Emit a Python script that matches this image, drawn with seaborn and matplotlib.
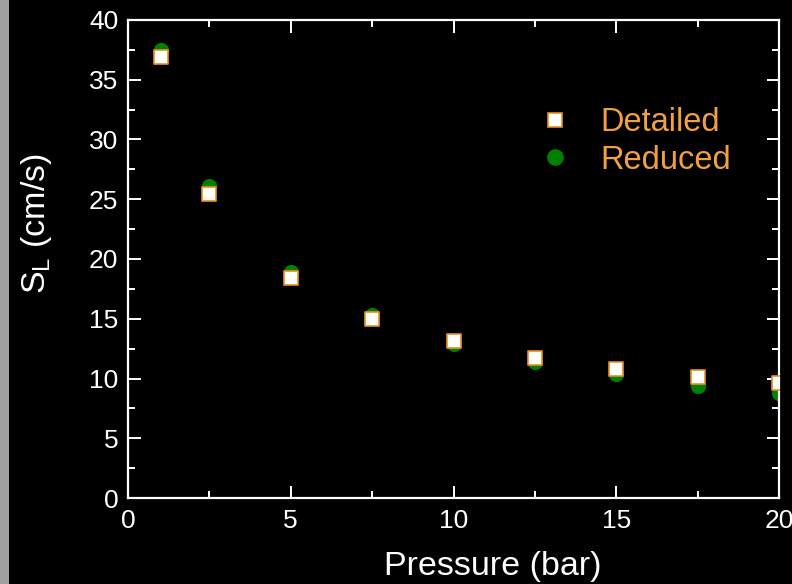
import matplotlib
matplotlib.use("Agg")
import matplotlib.pyplot as plt
import seaborn as sns
import pandas as pd
from matplotlib.ticker import MultipleLocator
from matplotlib.lines import Line2D

# ---- data ----
pressure = [1, 2.5, 5, 7.5, 10, 12.5, 15, 17.5, 20]
detailed = [36.9, 25.4, 18.4, 15.0, 13.1, 11.7, 10.8, 10.1, 9.6]
reduced = [37.5, 26.1, 18.9, 15.3, 12.9, 11.4, 10.4, 9.4, 8.8]
legend_labels = ["Detailed", "Reduced"]

sns.set_theme(style="ticks")
plt.rcParams["font.family"] = ["Liberation Sans", "DejaVu Sans"]
plt.rcParams["mathtext.fontset"] = "custom"
plt.rcParams["mathtext.rm"] = "Liberation Sans"
plt.rcParams["mathtext.it"] = "Liberation Sans"

fig = plt.figure(figsize=(7.92, 5.84), dpi=100, facecolor="black")
# grey strip on the left
fig.patches.append(plt.Rectangle((0, 0), 9 / 792, 1, transform=fig.transFigure,
                                 facecolor="#a0a0a0", edgecolor="none", zorder=0))
ax = fig.add_axes([128 / 792, 1 - 498 / 584, (779 - 128) / 792, (498 - 20) / 584])
ax.set_facecolor("black")

df_d = pd.DataFrame({"p": pressure, "v": detailed})
df_r = pd.DataFrame({"p": pressure, "v": reduced})

orange = "#f0a040"
green = "#008000"
sns.scatterplot(data=df_r, x="p", y="v", ax=ax, marker="o", s=120, color=green,
                edgecolor=green, linewidth=0, zorder=2, legend=False)
sns.scatterplot(data=df_d, x="p", y="v", ax=ax, marker="s", s=110, color="white",
                edgecolor="#e8901c", linewidth=1.2, zorder=3, legend=False)

ax.set_xlim(0, 20)
ax.set_ylim(0, 40)
ax.xaxis.set_major_locator(MultipleLocator(5))
ax.xaxis.set_minor_locator(MultipleLocator(2.5))
ax.yaxis.set_major_locator(MultipleLocator(5))
ax.yaxis.set_minor_locator(MultipleLocator(2.5))

for s in ax.spines.values():
    s.set_color("white")
    s.set_linewidth(1.6)
    s.set_visible(True)

ax.tick_params(which="both", direction="in", colors="white", top=True, right=True,
               width=1.4, labelsize=19, labelcolor="white", pad=7)
ax.tick_params(which="major", length=9)
ax.tick_params(which="minor", length=5)
ax.tick_params(axis="x", pad=8)

ax.set_xlabel("Pressure (bar)", color="white", fontsize=24.5)
ax.xaxis.set_label_coords(0.561, -0.110)
ax.set_ylabel(r"S$_\mathrm{L}$ (cm/s)", color="white", fontsize=24.5)
ax.yaxis.set_label_coords(-0.113, 0.575)

handles = [
    Line2D([], [], marker="s", linestyle="none", markersize=10.5, markerfacecolor="white",
           markeredgecolor="#e8901c", markeredgewidth=1.2),
    Line2D([], [], marker="o", linestyle="none", markersize=11, markerfacecolor=green,
           markeredgecolor=green),
]
leg = ax.legend(handles, legend_labels, loc="upper left", bbox_to_anchor=(0.586, 0.879),
                frameon=False, fontsize=23.5, labelcolor=orange, handletextpad=0.88,
                labelspacing=0.2, handlelength=1.0, borderpad=0.4)

fig.savefig("out.png", dpi=100, facecolor="black")
